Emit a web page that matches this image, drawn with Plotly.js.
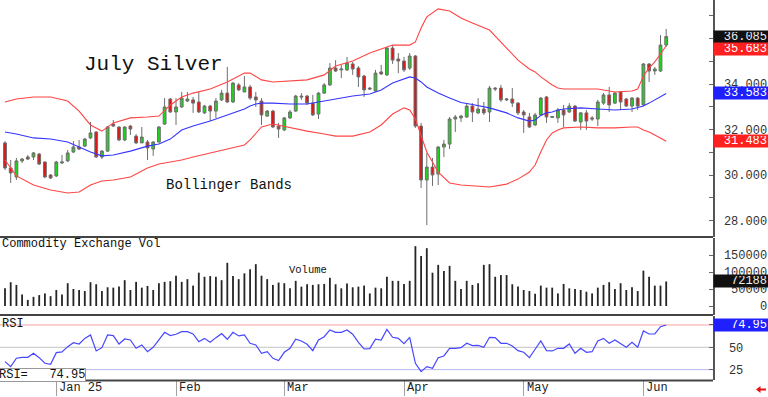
<!DOCTYPE html>
<html><head><meta charset="utf-8">
<script src="https://cdn.plot.ly/plotly-3.0.1.min.js"></script>
<style>html,body{margin:0;padding:0;background:#fff;overflow:hidden}#chart{width:768px;height:397px}</style>
</head><body><div id="chart"></div>
<script>
// ---- candles (index 0 = Dec 18 2024 ... index 116 = Jun 6 2025) ----
const openP = [31.41,30.31,29.91,30.62,30.79,30.79,30.92,30.57,30.00,29.96,
30.53,30.62,31.01,31.23,31.27,31.63,31.89,30.79,31.05,32.24,
32.11,31.54,32.15,31.71,31.41,31.45,31.14,31.45,32.24,33.34,
32.77,32.99,33.25,33.30,33.21,32.73,33.03,32.81,33.30,33.60,
33.21,33.96,33.65,33.87,33.43,33.25,32.59,32.81,32.15,31.98,
32.51,32.81,33.47,33.47,33.16,32.68,33.60,33.96,34.70,34.62,
34.62,34.88,34.70,34.35,33.82,33.69,34.53,34.40,35.58,35.10,
35.01,34.70,35.23,32.15,29.78,30.35,30.04,31.23,31.36,32.46,
32.51,32.55,33.03,32.73,32.90,32.77,33.82,33.82,33.30,33.34,
33.16,32.77,32.55,32.20,32.64,33.43,32.53,32.51,32.86,32.77,
33.03,32.33,32.73,32.51,32.46,33.16,33.52,33.16,33.65,33.34,
33.03,33.38,33.08,34.88,34.57,34.57,35.71];
const highP = [31.49,30.66,30.75,30.75,30.88,31.01,30.97,30.60,30.04,30.62,
30.88,31.10,31.49,31.54,31.63,32.33,31.93,31.10,32.15,32.42,
32.15,32.15,32.20,31.80,32.11,31.54,31.49,32.15,33.38,33.38,
33.38,33.65,33.65,33.43,33.65,33.08,33.08,33.38,33.74,34.75,
34.09,34.04,34.35,33.96,33.65,33.38,32.86,32.86,32.29,32.55,
32.86,33.52,33.60,33.52,33.52,33.65,34.04,34.92,35.05,34.84,
35.19,34.97,34.79,34.40,33.87,34.62,34.84,35.63,35.71,35.36,
35.19,35.36,35.27,32.29,30.97,30.75,31.27,31.54,32.55,32.64,
32.64,33.16,33.16,33.38,33.21,33.91,33.87,33.96,33.38,33.82,
33.21,32.86,32.73,32.73,33.43,33.47,32.59,32.95,33.08,33.16,
33.08,32.77,32.86,32.59,33.30,33.60,33.87,33.65,33.69,33.38,
33.43,33.43,34.92,34.92,34.75,36.15,36.42];
const lowP = [30.22,29.65,29.78,30.53,30.66,30.66,30.44,29.87,29.82,29.91,
30.48,30.57,30.97,31.10,31.23,31.58,30.75,30.70,31.01,32.11,
31.49,31.49,31.76,31.36,31.41,30.66,30.84,31.41,32.20,32.73,
32.20,32.95,33.21,32.73,32.73,32.68,32.37,32.51,33.25,33.16,
33.16,33.69,33.65,33.30,32.99,32.20,32.55,32.07,31.63,31.93,
32.46,32.77,33.30,33.08,32.59,32.46,33.56,33.91,34.53,34.26,
34.57,34.40,33.87,33.43,33.74,33.65,34.40,34.35,34.88,34.48,
34.53,34.62,32.07,29.43,27.80,29.52,29.56,30.79,31.14,31.89,
32.33,32.51,32.33,32.68,32.64,32.33,33.69,33.21,33.25,32.99,
32.64,31.85,32.07,32.15,32.59,32.29,32.51,32.29,32.11,32.73,
32.33,31.98,31.98,32.37,32.15,33.08,32.77,33.12,32.86,32.99,
32.77,32.86,33.03,34.09,34.40,34.53,35.63];
const closeP = [30.31,30.09,30.62,30.70,30.70,30.97,30.48,29.91,29.87,30.57,
30.57,30.97,31.23,31.14,31.58,31.85,30.79,31.05,32.11,32.15,
31.54,32.11,32.02,31.41,31.67,31.19,31.45,32.11,32.99,32.77,
32.99,33.38,33.34,33.16,32.77,33.03,32.81,33.25,33.60,33.21,
34.04,33.74,33.87,33.38,33.30,32.64,32.81,32.11,32.02,32.51,
32.77,33.47,33.43,33.16,32.64,33.60,33.96,34.70,34.57,34.66,
34.92,34.66,34.31,33.74,33.78,34.48,34.44,35.58,35.05,35.01,
34.62,35.23,32.15,29.78,30.35,30.00,31.23,31.36,32.46,32.55,
32.59,33.03,32.77,32.90,32.73,33.82,33.78,33.30,33.34,33.16,
32.73,32.64,32.11,32.64,33.38,32.55,32.57,32.86,32.64,33.03,
32.37,32.73,32.37,32.46,33.21,33.52,33.08,33.60,33.21,33.03,
33.38,33.03,34.88,34.57,34.66,35.71,36.085];

// ---- volume ----
const volume = [52000,70000,62000,34000,18000,27000,32000,37000,29000,47000,
34000,67000,50000,47000,44000,70000,64000,44000,55000,54000,
57000,76000,47000,71000,54000,59000,47000,67000,71000,73000,
89000,71000,79000,60000,98000,86000,88000,86000,76000,127000,
88000,79000,96000,108000,123000,89000,79000,62000,69000,67000,
52000,74000,57000,64000,62000,64000,65000,83000,64000,52000,
66000,55000,57000,60000,37000,54000,52000,86000,74000,74000,
65000,74000,176000,147000,170000,98000,121000,103000,118000,74000,
50000,74000,62000,67000,121000,123000,86000,91000,91000,64000,
57000,47000,44000,36000,60000,54000,54000,37000,65000,52000,
50000,47000,42000,37000,54000,62000,70000,50000,67000,47000,
55000,44000,104000,86000,60000,60000,72188];

// ---- RSI ----
const rsi = [34,28.4,37.7,38.8,38.8,43.3,38.4,32.1,31,44,
44.8,50.7,55.2,53.7,60,63.8,45.9,49.6,63.8,63.1,
53.7,59.3,58.2,48.9,52.6,45.1,50,59,66.8,63.1,
64.6,67.5,67.5,64.9,56.3,60,55.6,60.8,65.3,59,
66.8,62.7,63.8,54.5,52.6,43.3,45.1,37.7,35.1,44.4,
48.9,59,57.1,53.4,46.3,58.2,61.9,69.4,66.8,66.8,
69.4,64.6,55.6,48.1,48.5,59,58.2,70.1,61.2,60,
54.1,61.2,32.1,22.8,28.4,26.5,38.4,40.3,48.9,48.9,
49.6,54.5,51.9,52.2,50,61.2,60.8,54.5,54.5,51.5,
46.3,44.4,38.4,47.8,57.1,46.3,45.9,48.9,48.9,53.7,
43.3,48.9,44.4,45.1,57.1,60,54.5,58.2,53.7,50,
55.6,50,68.3,64.9,64.9,73.1,74.95];

// ---- Bollinger bands (read at these candle indices) ----
const bbIdx = [0,2,5,8,11,13,15,17,19,22,25,27,29,31,33,36,39,42,43,44,45,47,50,53,56,58,61,64,66,68,70,71,72,73,74,76,78,80,82,85,88,90,92,93,94,95,96,97,98,101,104,107,110,111,112,113,114,115,116];
const bbUpper = [33.21,33.34,33.43,33.43,33.25,32.81,32.20,31.93,32.29,32.51,
32.55,32.59,33.08,33.43,33.60,33.78,34.09,34.48,34.48,34.31,
34.18,34.09,34.13,34.18,34.40,34.79,35.01,35.36,35.54,35.71,
35.71,35.71,35.85,36.46,36.95,37.30,37.21,36.90,36.68,36.37,
35.58,35.05,34.66,34.53,34.31,34.13,33.96,33.82,33.78,33.78,
33.78,33.65,33.69,33.78,34.35,34.70,34.97,35.32,35.683];
const bbMid = [31.89,31.80,31.63,31.58,31.45,31.23,31.01,30.84,30.88,31.05,
31.27,31.36,31.58,31.98,32.15,32.37,32.64,32.90,33.03,33.12,
33.16,33.16,33.12,33.12,33.25,33.34,33.47,33.56,33.74,34.04,
34.22,34.31,34.26,34.09,33.87,33.60,33.38,33.19,33.10,32.95,
32.73,32.51,32.37,32.42,32.62,32.73,32.77,32.86,32.90,32.95,
32.90,32.86,32.90,32.95,33.03,33.16,33.30,33.43,33.583];
const bbLower = [30.66,29.96,29.56,29.34,29.21,29.25,29.56,29.74,29.78,29.91,
30.31,30.48,30.57,30.66,30.79,30.97,31.14,31.32,31.54,31.85,
32.11,32.24,32.07,31.93,31.80,31.71,31.71,31.89,32.20,32.68,
32.95,32.86,32.46,31.71,31.01,30.13,29.65,29.56,29.52,29.47,
29.60,29.82,30.13,30.44,31.01,31.54,31.85,31.98,32.07,32.11,
32.07,32.07,32.11,32.11,31.98,31.89,31.76,31.63,31.483];

// ---- axis labels ----
const monthIdx = [9,30,49,70,91,112];
const monthLabels = ['Jan 25','Feb','Mar','Apr','May','Jun'];
const priceTickVals = [28,29,30,31,32,33,34,35,36,37];
const priceTickText = ['28.000','','30.000','','32.000','','34.000','','',''];
const volTickVals = [0,50000,100000,150000];
const volTickText = ['\u00a0\u00a0\u00a0\u00a0\u00a00','\u00a050000','100000','150000'];
const rsiTickVals = [25,50,75];
const rsiTickText = ['25','50',''];

const idx = openP.map((_, i) => i);
const F = '"Liberation Mono","DejaVu Sans Mono",monospace';
const PW = 713, PH = 380;
const pxX = p => p / PW;
const pxY = p => 1 - p / PH;

const traces = [
  {type:'candlestick', x:idx, open:openP, high:highP, low:lowP, close:closeP,
   xaxis:'x', yaxis:'y', whiskerwidth:0, hoverinfo:'skip',
   increasing:{line:{color:'#6e6e6e', width:1}, fillcolor:'#1fd31f'},
   decreasing:{line:{color:'#6e6e6e', width:1}, fillcolor:'#e01515'}},
  {type:'scatter', mode:'lines', x:bbIdx, y:bbUpper, xaxis:'x', yaxis:'y', line:{color:'#ff4545', width:1.1}, hoverinfo:'skip'},
  {type:'scatter', mode:'lines', x:bbIdx, y:bbLower, xaxis:'x', yaxis:'y', line:{color:'#ff4545', width:1.1}, hoverinfo:'skip'},
  {type:'scatter', mode:'lines', x:bbIdx, y:bbMid, xaxis:'x', yaxis:'y', line:{color:'#3535ff', width:1.1}, hoverinfo:'skip'},
  {type:'bar', x:idx, y:volume, xaxis:'x', yaxis:'y2', width:0.32, marker:{color:'#262626', line:{width:0}}, hoverinfo:'skip'},
  {type:'scatter', mode:'lines', x:idx, y:rsi, xaxis:'x', yaxis:'y3', line:{color:'#4747ff', width:1.2}, hoverinfo:'skip'}
];

const axFont = {family:F, size:12, color:'#333'};
const commonY = {side:'right', anchor:'x', showgrid:false, zeroline:false, showline:true,
  linecolor:'#555', linewidth:1.5, ticks:'inside', ticklen:4, tickcolor:'#666', tickfont:axFont,
  ticklabelstandoff:7, fixedrange:true};

const box = (text, yref, y, bg, fg, yshift) => ({
  xref:'paper', x:1, xanchor:'left', yref:yref, y:y, yanchor:'middle', yshift:yshift||0,
  text:text, showarrow:false, width:52, height:10, align:'right', bgcolor:bg, borderpad:1,
  font:{family:F, size:12, color:fg}
});

const annotations = [
  {xref:'paper', yref:'paper', x:pxX(82), y:pxY(65), xanchor:'left', yanchor:'middle', text:'July Silver', showarrow:false, font:{family:F, size:21, color:'#111'}},
  {xref:'paper', yref:'paper', x:pxX(164), y:pxY(185), xanchor:'left', yanchor:'middle', text:'Bollinger Bands', showarrow:false, font:{family:F, size:14, color:'#111'}},
  {xref:'paper', yref:'paper', x:0, y:pxY(244), xanchor:'left', yanchor:'middle', text:'Commodity Exchange Vol', showarrow:false, font:{family:F, size:12, color:'#111'}},
  {xref:'paper', yref:'paper', x:pxX(287), y:pxY(270), xanchor:'left', yanchor:'middle', text:'Volume', showarrow:false, font:{family:F, size:10.5, color:'#111'}},
  {xref:'paper', yref:'paper', x:0, y:pxY(324), xanchor:'left', yanchor:'middle', text:'RSI', showarrow:false, font:{family:F, size:12, color:'#111'}},
  {xref:'paper', yref:'paper', x:-0.003, y:pxY(374.5), xanchor:'left', yanchor:'middle', text:'RSI=\u00a0\u00a0\u00a074.95', showarrow:false,
   bgcolor:'#fff', bordercolor:'#999', borderwidth:1, borderpad:0, height:12, font:{family:F, size:12, color:'#111'}},
  box('36.085','y',36.085,'#111','#eee',0),
  box('35.683','y',35.683,'#ff2020','#fff',-3),
  box('33.583','y',33.583,'#2020ff','#fff',0),
  box('31.483','y',31.483,'#ff2020','#fff',0),
  box('72188','y2',72188,'#111','#eee',0),
  box('74.95','y3',74.95,'#2020ff','#fff',0)
];
monthIdx.forEach((m, k) => annotations.push({
  xref:'x', yref:'paper', x:m, xanchor:'left', xshift:1, y:pxY(388), yanchor:'middle',
  text:monthLabels[k], showarrow:false, font:{family:F, size:12, color:'#222'}
}));

const sep = yPix => ({type:'line', xref:'paper', yref:'paper', x0:0, x1:1, y0:pxY(yPix), y1:pxY(yPix), line:{color:'#444', width:2}});
const refLine = (v, c) => ({type:'line', xref:'paper', yref:'y3', x0:0, x1:1, y0:v, y1:v, line:{color:c, width:1}, layer:'below'});
const shapes = [
  sep(237), sep(315), sep(380.5),
  refLine(75, '#f5a3a3'), refLine(50, '#c4c4c4'), refLine(25, '#b7b7f2'),
  {type:'path', xref:'paper', yref:'paper', fillcolor:'#e81010', line:{width:0},
   path:'M '+pxX(756)+','+pxY(389.5)+' L '+pxX(760.5)+','+pxY(386)+' L '+pxX(760.5)+','+pxY(388.5)+' L '+pxX(766)+','+pxY(388.5)+' L '+pxX(766)+','+pxY(390.5)+' L '+pxX(760.5)+','+pxY(390.5)+' L '+pxX(760.5)+','+pxY(393)+' Z'}
];

const layout = {
  width:768, height:397, margin:{l:0, r:55, t:0, b:17, pad:0},
  paper_bgcolor:'#fff', plot_bgcolor:'#fff', showlegend:false, hovermode:false,
  font:{family:F, size:12, color:'#222'},
  xaxis:{range:[-0.877, 124.21], anchor:'y3', showgrid:false, zeroline:false, showline:false,
    tickvals:monthIdx, ticktext:monthIdx.map(() => ''), ticks:'outside', ticklen:15, tickcolor:'#a0a0a0', tickwidth:1,
    rangeslider:{visible:false}, fixedrange:true},
  yaxis:Object.assign({}, commonY, {domain:[pxY(237), 1], range:[27.275, 37.692], tickvals:priceTickVals, ticktext:priceTickText}),
  yaxis2:Object.assign({}, commonY, {domain:[pxY(315), pxY(238)], range:[-26470, 200000], tickvals:volTickVals, ticktext:volTickText}),
  yaxis3:Object.assign({}, commonY, {domain:[0, pxY(316)], range:[13.38, 85.05], tickvals:rsiTickVals, ticktext:rsiTickText, ticklabelstandoff:12}),
  annotations:annotations, shapes:shapes
};

Plotly.newPlot('chart', traces, layout, {displayModeBar:false, staticPlot:true});
</script></body></html>
